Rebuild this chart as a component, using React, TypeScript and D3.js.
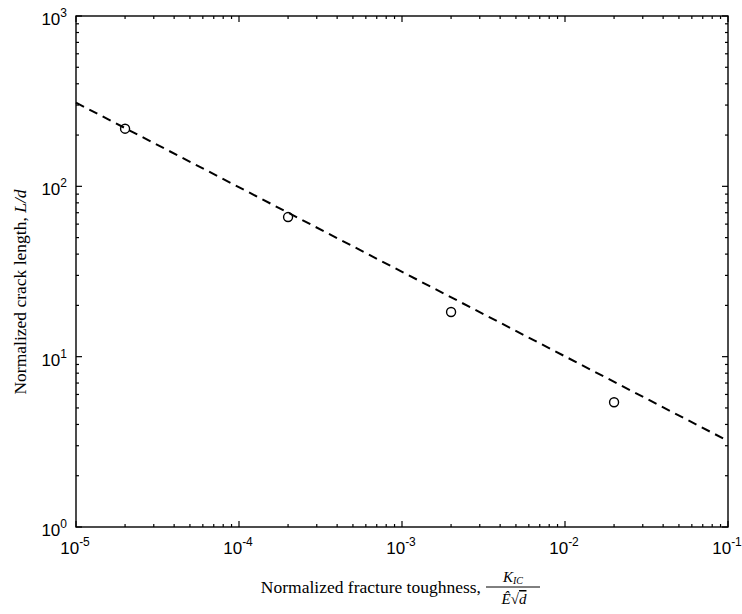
import React, { useEffect, useRef } from 'react';
import * as d3 from 'd3';

// measured points
const toughness = [2e-5, 2e-4, 2e-3, 2e-2];
const crackLength = [218, 66, 18.3, 5.4];

// fitted power law (end points of the dashed line)
const fitX = [1e-5, 1e-1];
const fitY = [310, 3.2];

const xDecades = [-5, -4, -3, -2, -1];
const yDecades = [0, 1, 2, 3];

const W = 742, H = 614;
const margin = { top: 16, right: 14, bottom: 87, left: 76 };

function App() {
  const ref = useRef<SVGSVGElement>(null);

  useEffect(() => {
    const svg = d3.select(ref.current);
    svg.selectAll('*').remove();

    const width = W - margin.left - margin.right;
    const height = H - margin.top - margin.bottom;

    const x = d3.scaleLog().domain([1e-5, 1e-1]).range([0, width]);
    const y = d3.scaleLog().domain([1, 1000]).range([height, 0]);

    const g = svg.append('g').attr('transform', `translate(${margin.left},${margin.top})`);

    // minor + major tick positions
    const xMinor: number[] = [];
    xDecades.slice(0, -1).forEach(e => { for (let k = 2; k <= 9; k++) xMinor.push(k * Math.pow(10, e)); });
    const yMinor: number[] = [];
    yDecades.slice(0, -1).forEach(e => { for (let k = 2; k <= 9; k++) yMinor.push(k * Math.pow(10, e)); });

    const ticks = g.append('g').attr('stroke', '#000').attr('stroke-width', 1.2);
    const tick = (x1: number, y1: number, x2: number, y2: number) =>
      ticks.append('line').attr('x1', x1).attr('y1', y1).attr('x2', x2).attr('y2', y2);

    xMinor.forEach(v => { tick(x(v), height, x(v), height - 3); tick(x(v), 0, x(v), 3); });
    xDecades.forEach(e => { const v = Math.pow(10, e); tick(x(v), height, x(v), height - 6); tick(x(v), 0, x(v), 6); });
    yMinor.forEach(v => { tick(0, y(v), 3, y(v)); tick(width, y(v), width - 3, y(v)); });
    yDecades.forEach(e => { const v = Math.pow(10, e); tick(0, y(v), 6, y(v)); tick(width, y(v), width - 6, y(v)); });

    // frame
    g.append('rect')
      .attr('width', width).attr('height', height)
      .attr('fill', 'none').attr('stroke', '#000').attr('stroke-width', 1.4);

    // tick labels
    const labelFont = "'Liberation Sans', Arial, sans-serif";
    xDecades.forEach(e => {
      const t = g.append('text')
        .attr('x', x(Math.pow(10, e)) - 1).attr('y', height + 27)
        .attr('text-anchor', 'middle')
        .attr('font-family', labelFont).attr('font-size', 17);
      t.append('tspan').text('10');
      t.append('tspan').attr('dy', -8).attr('font-size', 12).text(String(e));
    });
    yDecades.forEach(e => {
      const t = g.append('text')
        .attr('x', -9).attr('y', y(Math.pow(10, e)) + 9)
        .attr('text-anchor', 'end')
        .attr('font-family', labelFont).attr('font-size', 17);
      t.append('tspan').text('10');
      t.append('tspan').attr('dy', -8).attr('font-size', 12).text(String(e));
    });

    // fitted dashed line
    const line = d3.line<number>()
      .x((d, i) => x(fitX[i]))
      .y(d => y(d));
    g.append('path')
      .datum(fitY)
      .attr('d', line)
      .attr('fill', 'none')
      .attr('stroke', '#000')
      .attr('stroke-width', 2)
      .attr('stroke-dasharray', '9,6');

    // data points
    g.selectAll('circle.pt')
      .data(toughness)
      .enter()
      .append('circle')
      .attr('class', 'pt')
      .attr('cx', d => x(d))
      .attr('cy', (d, i) => y(crackLength[i]))
      .attr('r', 4.5)
      .attr('fill', 'none')
      .attr('stroke', '#000')
      .attr('stroke-width', 1.4);

    // axis titles
    const serif = "'Liberation Serif', 'Times New Roman', serif";
    const yl = svg.append('text')
      .attr('transform', `translate(26,292) rotate(-90)`)
      .attr('text-anchor', 'middle')
      .attr('font-family', serif).attr('font-size', 17.5);
    yl.append('tspan').text('Normalized crack length, ');
    yl.append('tspan').attr('font-style', 'italic').text('L/d');

    svg.append('text')
      .attr('x', 481).attr('y', 593)
      .attr('text-anchor', 'end')
      .attr('font-family', serif).attr('font-size', 17.5)
      .text('Normalized fracture toughness,');

    // fraction K_IC / (Ê √d)
    svg.append('line')
      .attr('x1', 486).attr('x2', 540).attr('y1', 587).attr('y2', 587)
      .attr('stroke', '#000').attr('stroke-width', 1);
    const num = svg.append('text')
      .attr('x', 513).attr('y', 582)
      .attr('text-anchor', 'middle')
      .attr('font-family', serif).attr('font-size', 15).attr('font-style', 'italic');
    num.append('tspan').text('K');
    num.append('tspan').attr('font-size', 10).attr('dy', 2).text('IC');
    const den = svg.append('text')
      .attr('x', 514).attr('y', 604)
      .attr('text-anchor', 'middle')
      .attr('font-family', serif).attr('font-size', 15).attr('font-style', 'italic');
    den.append('tspan').text('Ê');
    den.append('tspan').attr('font-style', 'normal').text('√');
    den.append('tspan').attr('text-decoration', 'overline').text('d');
  }, []);

  return (
    <svg ref={ref} width={W} height={H}
      style={{ position: 'absolute', left: 0, top: 0, background: '#fff' }} />
  );
}

export default App;
